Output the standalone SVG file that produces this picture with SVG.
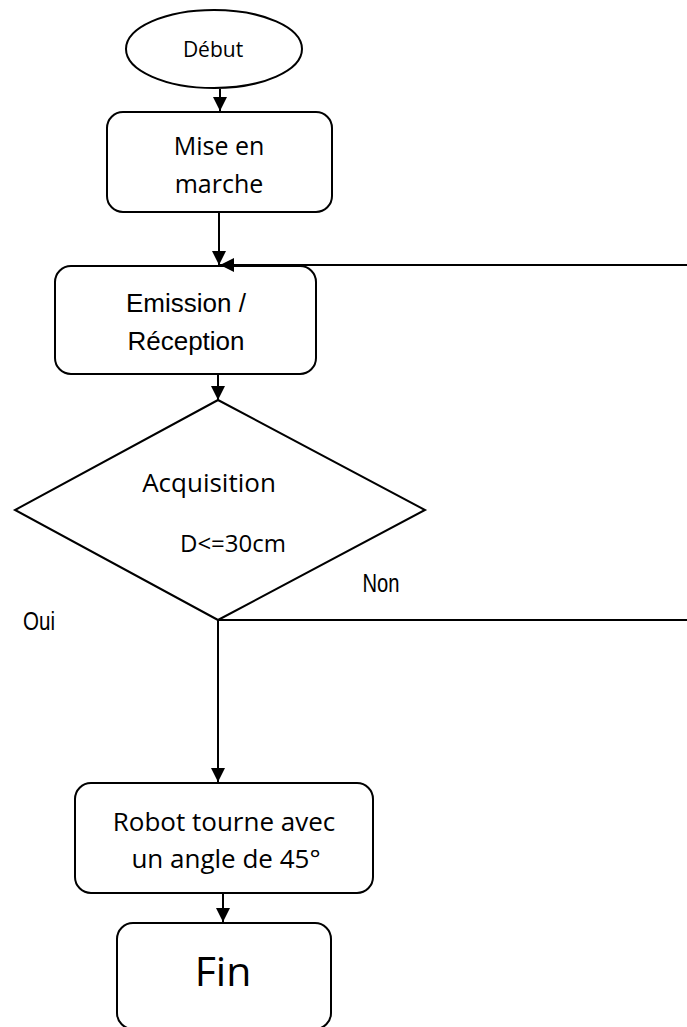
<svg xmlns="http://www.w3.org/2000/svg" width="687" height="1027" viewBox="0 0 687 1027">
  <style>
    .shape { fill: #fff; stroke: #000; stroke-width: 2; }
    .link { fill: none; stroke: #000; stroke-width: 2; }
    .cal { font-family: "Open Sans", "Noto Sans", sans-serif; fill: #000; text-anchor: middle; }
    .ari { font-family: "Liberation Sans", Arial, sans-serif; fill: #000; text-anchor: middle; }
  </style>
  <defs>
    <marker id="arrow" markerUnits="userSpaceOnUse" markerWidth="16" markerHeight="16" viewBox="0 0 16 16" refX="14" refY="8" orient="auto">
      <path d="M0,1 L14,8 L0,15 Z" fill="#000"/>
    </marker>
  </defs>
  <rect width="687" height="1027" fill="#fff"/>

  <!-- start -->
  <g id="debut">
    <ellipse class="shape" cx="214" cy="49" rx="88" ry="39"/>
    <text class="cal" x="213" y="57" font-size="21">Début</text>
  </g>

  <g id="mise-en-marche">
    <rect class="shape" x="107" y="112" width="225" height="100" rx="16"/>
    <text class="cal" x="219" y="155" font-size="25">Mise en</text>
    <text class="cal" x="219" y="193" font-size="25">marche</text>
  </g>

  <g id="emission-reception">
    <rect class="shape" x="55" y="266" width="261" height="108" rx="16"/>
    <text class="ari" x="186" y="312" font-size="26">Emission /</text>
    <text class="ari" x="186" y="350" font-size="26">Réception</text>
  </g>

  <g id="acquisition">
    <polygon class="shape" points="218,400 425,510 218,620 15,510"/>
    <text class="cal" x="209" y="492" font-size="26">Acquisition</text>
    <text class="cal" x="233" y="552" font-size="24">D&lt;=30cm</text>
  </g>

  <!-- branch labels -->
  <g id="labels">
    <text class="ari" x="39" y="630" font-size="25" textLength="32" lengthAdjust="spacingAndGlyphs">Oui</text>
    <text class="ari" x="381" y="592" font-size="25" textLength="37" lengthAdjust="spacingAndGlyphs">Non</text>
  </g>

  <g id="robot-tourne">
    <rect class="shape" x="75" y="783" width="298" height="110" rx="16"/>
    <text class="cal" x="224" y="831" font-size="26">Robot tourne avec</text>
    <text class="cal" x="226" y="868" font-size="26">un angle de 45°</text>
  </g>

  <g id="fin">
    <rect class="shape" x="117" y="923" width="214" height="106" rx="16"/>
    <text class="cal" x="223" y="986" font-size="41">Fin</text>
  </g>

  <!-- connectors, drawn last so arrowheads sit on top of the boxes -->
  <g id="connectors">
    <path class="link" d="M220,89 V111" marker-end="url(#arrow)"/>
    <path class="link" d="M219,213 V265" marker-end="url(#arrow)"/>
    <path class="link" d="M218,375 V400" marker-end="url(#arrow)"/>
    <path class="link" d="M218,620 V782" marker-end="url(#arrow)"/>
    <path class="link" d="M218,620 H700 V265 H220" marker-end="url(#arrow)"/>
    <path class="link" d="M223,894 V922" marker-end="url(#arrow)"/>
  </g>
</svg>
